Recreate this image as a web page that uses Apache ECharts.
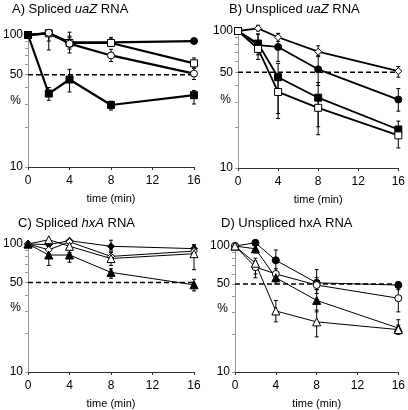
<!DOCTYPE html>
<html>
<head>
<meta charset="utf-8">
<script src="https://cdn.jsdelivr.net/npm/echarts@6/dist/echarts.min.js"></script>
<style>html,body{margin:0;padding:0;background:#fff}#c{width:408px;height:410px}</style>
</head>
<body>
<div id="c"></div>
<script>
// ---- data ----
const times = [0, 2, 4, 8, 16];
const xTicks = [0, 4, 8, 12, 16];
const yTickLabels = [10, 50, 100];
const yMinorTicks = [10, 20, 30, 40, 50, 60, 70, 80, 90, 100];
const refLevel = 50;

// Panel A: Spliced uaZ RNA
const A_filledCircle = [100, 103, 88, 88, 90];
const A_openSquare   = [100, 103, 87, 87, 61];
const A_openCircle   = [100, 104, 86, 70, 51];
const A_filledSquare = [100, 36, 46, 29.5, 35];
const A_filledCircleErr = [null, [98, 106], [80, 96], [85, 93], [87, 94]];
const A_openSquareErr   = [null, [77, 108], [73, 105], [82, 96], [56, 67]];
const A_openCircleErr   = [null, [90, 110], [78, 98], [63, 78], [46, 56]];
const A_filledSquareErr = [null, [32, 40], [37, 55], [27, 31.5], [30, 38]];

// Panel B: Unspliced uaZ RNA
const B_openDiamond  = [100, 104.6, 90, 70.6, 51];
const B_filledCircle = [100, 79, 76.5, 52.5, 31.6];
const B_filledSquare = [100, 81, 46, 32.6, 19.1];
const B_openSquare   = [100, 74, 35.9, 27.5, 17.3];
const B_openDiamondErr  = [null, [100, 110], [84, 96], [66, 78], [46, 55]];
const B_filledCircleErr = [null, [67, 95], [60, 96], [40, 65], [26, 38]];
const B_filledSquareErr = [null, [70, 95], [23, 58], [17.5, 42], [16.8, 22]];
const B_openSquareErr   = [null, [62, 85], [25, 45], [20, 33], [14, 18.5]];

// Panel C: Spliced hxA RNA
const C_filledDiamond  = [100, 99, 106, 96, 92];
const C_openDiamond    = [100, 90, 104, 80, 88];
const C_openTriangle   = [100, 108, 96, 77, 84];
const C_filledTriangle = [100, 82, 82, 60, 48];
const C_filledDiamondErr  = [null, null, null, [90, 107], [86, 98]];
const C_openDiamondErr    = [null, [84, 96], null, [72, 88], [80, 95]];
const C_openTriangleErr   = [null, null, [90, 100], [68, 86], [63, 99]];
const C_filledTriangleErr = [null, [68, 89], [72, 86], [54, 64], [43, 53]];

// Panel D: Unspliced hxA RNA
const D_filledCircle   = [100, 106, 77, 51, 49];
const D_openDiamond    = [100, 68, 60, 49, 38.5];
const D_filledTriangle = [100, 95, 56, 37, 22.3];
const D_openTriangle   = [100, 73, 30.5, 25, 21.7];
const D_filledCircleErr   = [null, null, [61, 93], [45, 65], [45, 52]];
const D_openDiamondErr    = [null, [56, 76], [52, 66], [42, 56], [30, 48]];
const D_filledTriangleErr = [null, [88, 102], [50, 62], [30, 45], [20, 26]];
const D_openTriangleErr   = [null, [60, 80], [25, 37], [19, 31], [20, 23.5]];

// ---- chart ----
const FONT = 'Liberation Sans, Arial, Helvetica, sans-serif';
const grids = [
  {left: 25, top: 35, width: 169, height: 132},
  {left: 238, top: 31, width: 164, height: 137},
  {left: 24, top: 244, width: 170, height: 133},
  {left: 235, top: 246, width: 168, height: 130}
];
const lineWidths = [2.2, 1.8, 1, 1];

const xAxes = grids.map((g, i) => ({
  type: 'value', gridIndex: i, min: xTicks[0], max: xTicks[xTicks.length - 1], interval: 4,
  axisLine: {show: true, lineStyle: {color: '#333', width: 1}},
  axisTick: {show: true, length: 3, lineStyle: {color: '#333'}},
  axisLabel: {color: '#000', fontSize: 12, fontFamily: FONT, margin: 8},
  splitLine: {show: false},
  name: 'time (min)', nameLocation: 'middle', nameGap: 26, nameMoveOverlap: false,
  nameTextStyle: {color: '#000', fontSize: 11, fontFamily: FONT}
}));
const yAxes = grids.map((g, i) => ({
  type: 'log', logBase: 10, gridIndex: i, min: 10, max: 100,
  axisLine: {show: true, lineStyle: {color: '#999', width: 1}},
  axisTick: {show: true, length: 3, customValues: yMinorTicks, lineStyle: {color: '#999'}},
  axisLabel: {customValues: yTickLabels, color: '#000', fontSize: 12, fontFamily: FONT, margin: 5},
  splitLine: {show: false},
  minorTick: {show: false},
  name: '%', nameLocation: 'middle', nameRotate: 0, nameGap: 7, nameMoveOverlap: false,
  nameTextStyle: {color: '#000', fontSize: 12, fontFamily: FONT}
}));

function lineSeries(gi, values, symbol, filled) {
  return {
    type: 'line', xAxisIndex: gi, yAxisIndex: gi, clip: false, z: 3,
    data: times.map((t, i) => [t, values[i]]),
    symbol: symbol, symbolSize: symbol === 'triangle' ? 8 : 7, showSymbol: true,
    lineStyle: {color: '#000', width: lineWidths[gi]},
    itemStyle: {color: filled ? '#000' : '#fff', borderColor: '#000', borderWidth: 1},
    emphasis: {disabled: true}
  };
}
function errSeries(gi, errs) {
  const data = [];
  errs.forEach((e, i) => { if (e) data.push([times[i], e[0], e[1]]); });
  return {
    type: 'custom', xAxisIndex: gi, yAxisIndex: gi, z: 2, clip: false,
    data: data, encode: {x: 0, y: [1, 2]},
    renderItem: function (params, api) {
      const x = api.value(0);
      const p1 = api.coord([x, api.value(1)]);
      const p2 = api.coord([x, api.value(2)]);
      const w = 2;
      const st = {stroke: '#000', lineWidth: 1};
      return {type: 'group', children: [
        {type: 'line', shape: {x1: p1[0], y1: p1[1], x2: p2[0], y2: p2[1]}, style: st},
        {type: 'line', shape: {x1: p1[0] - w, y1: p1[1], x2: p1[0] + w, y2: p1[1]}, style: st},
        {type: 'line', shape: {x1: p2[0] - w, y1: p2[1], x2: p2[0] + w, y2: p2[1]}, style: st}
      ]};
    }
  };
}
function refSeries(gi) {
  return {
    type: 'line', xAxisIndex: gi, yAxisIndex: gi, clip: false, z: 1,
    data: [[0, refLevel], [16.6, refLevel]], symbol: 'none',
    lineStyle: {color: '#000', width: 1.5, type: [5, 3]}, emphasis: {disabled: true}
  };
}

const panels = [
  [[A_filledCircle, 'circle', true, A_filledCircleErr], [A_openSquare, 'rect', false, A_openSquareErr],
   [A_openCircle, 'circle', false, A_openCircleErr], [A_filledSquare, 'rect', true, A_filledSquareErr]],
  [[B_openDiamond, 'diamond', false, B_openDiamondErr], [B_filledCircle, 'circle', true, B_filledCircleErr],
   [B_filledSquare, 'rect', true, B_filledSquareErr], [B_openSquare, 'rect', false, B_openSquareErr]],
  [[C_filledDiamond, 'diamond', true, C_filledDiamondErr], [C_openDiamond, 'diamond', false, C_openDiamondErr],
   [C_openTriangle, 'triangle', false, C_openTriangleErr], [C_filledTriangle, 'triangle', true, C_filledTriangleErr]],
  [[D_filledCircle, 'circle', true, D_filledCircleErr], [D_openDiamond, 'circle', false, D_openDiamondErr],
   [D_filledTriangle, 'triangle', true, D_filledTriangleErr], [D_openTriangle, 'triangle', false, D_openTriangleErr]]
];

const series = [];
panels.forEach((p, gi) => {
  series.push(refSeries(gi));
  p.forEach(s => series.push(errSeries(gi, s[3])));
  p.forEach(s => series.push(lineSeries(gi, s[0], s[1], s[2])));
});

const titleStyle = {color: '#000', fontSize: 13, fontWeight: 'normal', fontFamily: FONT,
  rich: {i: {fontStyle: 'italic', fontSize: 13, fontFamily: FONT, color: '#000'}}};
const titles = [
  {text: 'A) Spliced {i|uaZ} RNA', left: 12, top: 3},
  {text: 'B) Unspliced {i|uaZ} RNA', left: 229, top: 3},
  {text: 'C) Spliced {i|hxA} RNA', left: 18, top: 217},
  {text: 'D) Unspliced hxA RNA', left: 221, top: 217}
].map(t => Object.assign({padding: 0, textStyle: titleStyle}, t));

const chart = echarts.init(document.getElementById('c'), null, {renderer: 'canvas'});
chart.setOption({
  animation: false,
  backgroundColor: '#fff',
  title: titles,
  grid: grids,
  xAxis: xAxes,
  yAxis: yAxes,
  series: series
});
</script>
</body>
</html>
